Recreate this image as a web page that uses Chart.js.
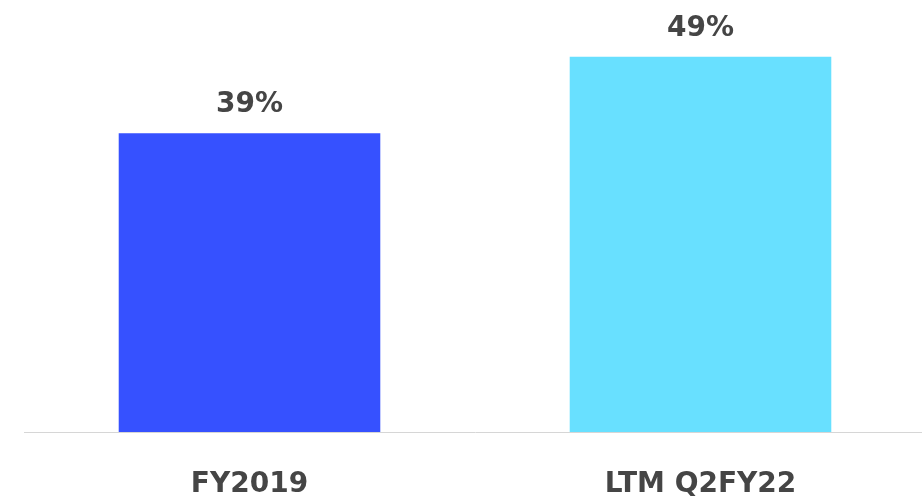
<!DOCTYPE html>
<html>
<head>
<meta charset="utf-8">
<script src="https://cdn.jsdelivr.net/npm/chart.js@4"></script>
<style>
	html, body { margin: 0; padding: 0; background: #fff; overflow: hidden; }
	#wrap { width: 930px; height: 498px; }
</style>
</head>
<body>
<div id="wrap"><canvas id="chart"></canvas></div>
<script>
var categories = ['FY2019', 'LTM Q2FY22'];
var values = [39, 49];
var barColors = ['#3651ff', '#68e0ff'];

// percent labels above each bar
var valueLabels = {
	id: 'valueLabels',
	afterDatasetsDraw: function (chart) {
		var ctx = chart.ctx;
		var meta = chart.getDatasetMeta(0);
		ctx.save();
		ctx.font = 'bold 28px "DejaVu Sans"';
		ctx.fillStyle = '#454545';
		ctx.textAlign = 'center';
		ctx.textBaseline = 'alphabetic';
		meta.data.forEach(function (bar, i) {
			ctx.fillText(values[i] + '%', bar.x, bar.y - 21);
		});
		ctx.restore();
	}
};

new Chart(document.getElementById('chart'), {
	type: 'bar',
	data: {
		labels: categories,
		datasets: [{
			data: values,
			backgroundColor: barColors,
			barPercentage: 0.58,
			categoryPercentage: 1
		}]
	},
	options: {
		responsive: true,
		maintainAspectRatio: false,
		animation: false,
		layout: { padding: { left: 24, right: 4, top: 0, bottom: 0 } },
		plugins: {
			legend: { display: false },
			tooltip: { enabled: false }
		},
		scales: {
			x: {
				grid: { display: false },
				border: { display: true, color: '#d6d6d6', width: 1 },
				ticks: {
					color: '#454545',
					font: { family: 'DejaVu Sans', size: 28, weight: 'bold' },
					padding: 28
				},
				afterFit: function (scale) { scale.height = 66; }
			},
			y: {
				display: false,
				min: 0,
				max: 56.4
			}
		}
	},
	plugins: [valueLabels]
});
</script>
</body>
</html>
